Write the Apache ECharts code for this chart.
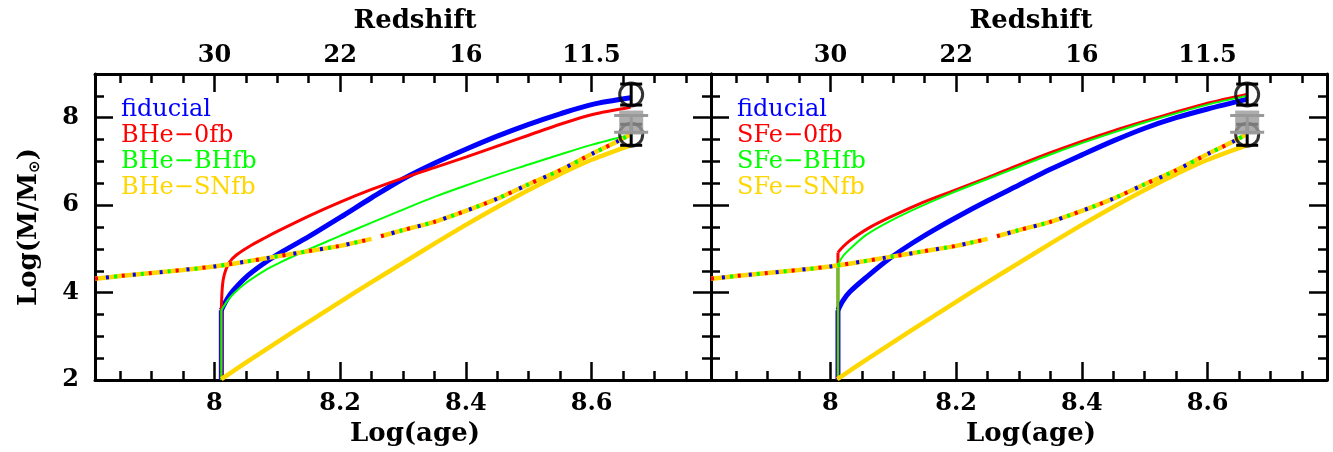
<!DOCTYPE html>
<html>
<head>
<meta charset="utf-8">
<script src="https://cdn.jsdelivr.net/npm/echarts@6/dist/echarts.min.js"></script>
<style>
  html, body { margin: 0; padding: 0; background: #fff; }
  #container { width: 1333px; height: 452px; }
</style>
</head>
<body>
<div id="container"></div>
<script>
// ticks
var ageTicks = [8, 8.2, 8.4, 8.6];
var ageMinor = [7.85, 7.9, 7.95, 8.05, 8.1, 8.15, 8.25, 8.3, 8.35, 8.45, 8.5, 8.55, 8.65, 8.7, 8.75];
var redshiftLabels = ['30', '22', '16', '11.5'];
var massTicks = [2, 4, 6, 8];
var massMinor = [2.5, 3, 3.5, 4.5, 5, 5.5, 6.5, 7, 7.5, 8.5];

// left panel: BHe models  [log(age), log(M)]
var fiducialL = [[8.011,2.0],[8.011,3.6],[8.02,3.85],[8.03,4.05],[8.05,4.35],[8.075,4.63],[8.1,4.87],[8.15,5.28],[8.2,5.72],[8.25,6.17],[8.3,6.6],[8.35,6.96],[8.4,7.28],[8.45,7.58],[8.5,7.85],[8.55,8.09],[8.6,8.3],[8.662,8.455]];
var bhe0fb = [[8.011,2.0],[8.011,3.6],[8.012,4.0],[8.014,4.3],[8.018,4.52],[8.024,4.7],[8.035,4.86],[8.056,5.06],[8.08,5.25],[8.1,5.4],[8.15,5.75],[8.2,6.07],[8.25,6.36],[8.3,6.62],[8.35,6.86],[8.4,7.1],[8.45,7.35],[8.5,7.6],[8.55,7.85],[8.6,8.07],[8.662,8.24]];
var bheBHfb = [[8.011,2.0],[8.011,3.6],[8.02,3.8],[8.03,3.97],[8.05,4.22],[8.083,4.53],[8.1,4.66],[8.136,4.9],[8.2,5.3],[8.25,5.6],[8.3,5.9],[8.35,6.19],[8.4,6.45],[8.45,6.7],[8.5,6.93],[8.55,7.16],[8.6,7.38],[8.662,7.61]];
// right panel: SFe models
var fiducialR = [[8.012,2.0],[8.012,3.6],[8.02,3.82],[8.031,4.02],[8.057,4.35],[8.094,4.78],[8.13,5.13],[8.163,5.42],[8.2,5.72],[8.25,6.1],[8.3,6.46],[8.35,6.82],[8.4,7.15],[8.45,7.47],[8.5,7.76],[8.55,8.0],[8.6,8.2],[8.662,8.42]];
var sfe0fb = [[8.012,2.0],[8.012,4.92],[8.02,5.05],[8.031,5.19],[8.06,5.47],[8.094,5.72],[8.14,6.02],[8.19,6.3],[8.25,6.63],[8.3,6.92],[8.35,7.2],[8.4,7.46],[8.45,7.7],[8.5,7.92],[8.55,8.13],[8.6,8.33],[8.662,8.53]];
var sfeBHfb = [[8.012,2.0],[8.012,4.62],[8.016,4.75],[8.022,4.87],[8.031,5.0],[8.057,5.32],[8.094,5.63],[8.14,5.95],[8.19,6.26],[8.25,6.6],[8.3,6.88],[8.35,7.16],[8.4,7.42],[8.45,7.66],[8.5,7.89],[8.55,8.1],[8.6,8.3],[8.662,8.5]];
// shared by both panels
var snfb = [[8.011,2.02],[8.05,2.4],[8.1,2.87],[8.15,3.33],[8.2,3.79],[8.25,4.24],[8.3,4.68],[8.35,5.12],[8.4,5.55],[8.45,5.96],[8.5,6.35],[8.55,6.71],[8.6,7.04],[8.662,7.37]];
var halo = [[7.81,4.32],[7.85,4.38],[7.9,4.45],[7.95,4.52],[8.0,4.6],[8.05,4.71],[8.1,4.83],[8.15,4.95],[8.2,5.07],[8.25,5.23],[8.257,null],[8.265,5.29],[8.3,5.43],[8.35,5.62],[8.4,5.87],[8.45,6.15],[8.5,6.48],[8.55,6.8],[8.6,7.17],[8.64,7.45],[8.662,7.62]];
// observed points: [age, value, low, high]
var obsCircles = [[8.663,8.53,8.29,8.77],[8.663,7.61,7.37,7.85]];
var obsSquare = [[8.663,7.89,7.67,8.05]];

var leftNames = ['fiducial', 'BHe\u22120fb', 'BHe\u2212BHfb', 'BHe\u2212SNfb'];
var rightNames = ['fiducial', 'SFe\u22120fb', 'SFe\u2212BHfb', 'SFe\u2212SNfb'];
var colors = ['#0000ff', '#ff0000', '#00ff00', '#ffd700'];

var FONT = 'DejaVu Serif';
var myChart = echarts.init(document.getElementById('container'));

function tickStyle() { return { color: '#000', width: 2.5 }; }

function xAxesFor(g) {
  var lbl = { fontFamily: FONT, fontWeight: 'bold', fontSize: 24, color: '#000' };
  var nameStyle = { fontFamily: FONT, fontWeight: 'bold', fontSize: 26, color: '#000', padding: [0, 0, 0, 24] };
  var base = { gridIndex: g, type: 'value', min: 7.81, max: 8.79, splitLine: { show: false } };
  return [
    Object.assign({}, base, { position: 'bottom',
      axisLine: { onZero: false, lineStyle: { color: '#000', width: 3 } },
      axisTick: { inside: true, length: 18, customValues: ageTicks, lineStyle: tickStyle() },
      axisLabel: Object.assign({ customValues: ageTicks, margin: 12 }, lbl),
      name: 'Log(age)', nameLocation: 'middle', nameGap: 38, nameTextStyle: nameStyle }),
    Object.assign({}, base, { position: 'bottom',
      axisLine: { show: false, onZero: false },
      axisTick: { inside: true, length: 9, customValues: ageMinor, lineStyle: tickStyle() },
      axisLabel: { show: false } }),
    Object.assign({}, base, { position: 'top',
      axisLine: { onZero: false, lineStyle: { color: '#000', width: 3 } },
      axisTick: { inside: true, length: 18, customValues: ageTicks, lineStyle: tickStyle() },
      axisLabel: Object.assign({ customValues: ageTicks, margin: 6, formatter: function (v) {
        for (var i = 0; i < ageTicks.length; i++) { if (Math.abs(ageTicks[i] - v) < 1e-6) return redshiftLabels[i]; }
        return '';
      } }, lbl),
      name: 'Redshift', nameLocation: 'middle', nameGap: 40, nameTextStyle: nameStyle }),
    Object.assign({}, base, { position: 'top',
      axisLine: { show: false, onZero: false },
      axisTick: { inside: true, length: 9, customValues: ageMinor, lineStyle: tickStyle() },
      axisLabel: { show: false } })
  ];
}

function yAxesFor(g, withLabels) {
  var base = { gridIndex: g, type: 'value', min: 2, max: 9, splitLine: { show: false } };
  var major = Object.assign({}, base, { position: 'left',
    axisLine: { onZero: false, lineStyle: { color: '#000', width: 3 } },
    axisTick: { inside: true, length: 18, customValues: massTicks, lineStyle: tickStyle() },
    axisLabel: { show: withLabels, customValues: massTicks, margin: 16, fontFamily: FONT, fontWeight: 'bold', fontSize: 24, color: '#000' } });
  if (withLabels) {
    major.name = '{a|Log(M/M}{b|\u2299}{a|)}';
    major.nameLocation = 'middle';
    major.nameGap = 52;
    major.nameTextStyle = { rich: {
      a: { fontFamily: FONT, fontWeight: 'bold', fontSize: 26, color: '#000' },
      b: { fontFamily: 'DejaVu Sans', fontWeight: 'bold', fontSize: 15, color: '#000', padding: [12, 0, 0, 0] }
    } };
  }
  return [
    major,
    Object.assign({}, base, { position: 'left', axisLine: { show: false, onZero: false },
      axisTick: { inside: true, length: 9, customValues: massMinor, lineStyle: tickStyle() }, axisLabel: { show: false } }),
    Object.assign({}, base, { position: 'right', axisLine: { onZero: false, lineStyle: { color: '#000', width: 3 } },
      axisTick: { inside: true, length: 18, customValues: massTicks, lineStyle: tickStyle() }, axisLabel: { show: false } }),
    Object.assign({}, base, { position: 'right', axisLine: { show: false, onZero: false },
      axisTick: { inside: true, length: 9, customValues: massMinor, lineStyle: tickStyle() }, axisLabel: { show: false } })
  ];
}

function lineSeries(name, data, color, width, g, z, smooth) {
  return { name: name, type: 'line', data: data, xAxisIndex: g * 4, yAxisIndex: g * 4,
    showSymbol: false, symbol: 'none', z: z, smooth: smooth,
    lineStyle: { color: color, width: width }, itemStyle: { color: color } };
}

// a model track: straight vertical jump at formation, then a smooth curve
function track(name, data, color, width, g, z) {
  if (data[0][0] !== data[1][0]) return [lineSeries(name, data, color, width, g, z, 0.3)];
  return [
    lineSeries(name, data.slice(0, 2), color, width, g, z, false),
    lineSeries(name, data.slice(1), color, width, g, z, 0.3)
  ];
}

function haloSeries(g) {
  var out = [lineSeries('', halo, '#ffd700', 4.5, g, 5, 0.3)];
  var dashCols = ['#ff0000', '#00ff00', '#0000ff'];
  for (var i = 0; i < dashCols.length; i++) {
    var s = lineSeries('', halo, dashCols[i], 4, g, 6, 0.3);
    s.lineStyle.type = [3, 24];
    s.lineStyle.dashOffset = i * 8;
    out.push(s);
  }
  return out;
}

function errorBars(data, color, capW, g, z) {
  return { type: 'custom', xAxisIndex: g * 4, yAxisIndex: g * 4, z: z, data: data,
    renderItem: function (params, api) {
      var top = api.coord([api.value(0), api.value(3)]);
      var bot = api.coord([api.value(0), api.value(2)]);
      var st = { stroke: color, lineWidth: 3 };
      var h = capW / 2;
      return { type: 'group', children: [
        { type: 'line', shape: { x1: top[0], y1: top[1], x2: bot[0], y2: bot[1] }, style: st },
        { type: 'line', shape: { x1: top[0] - h, y1: top[1], x2: top[0] + h, y2: top[1] }, style: st },
        { type: 'line', shape: { x1: bot[0] - h, y1: bot[1], x2: bot[0] + h, y2: bot[1] }, style: st }
      ] };
    } };
}

function obsSeries(g) {
  return [
    errorBars(obsCircles, '#000', 22, g, 7),
    { type: 'scatter', xAxisIndex: g * 4, yAxisIndex: g * 4, z: 7, data: obsCircles, symbol: 'circle', symbolSize: 23,
      itemStyle: { color: 'rgba(0,0,0,0)', borderColor: '#000', borderWidth: 3 } },
    errorBars(obsSquare, '#999999', 34, g, 8),
    { type: 'scatter', xAxisIndex: g * 4, yAxisIndex: g * 4, z: 8, data: obsSquare, symbol: 'rect', symbolSize: 24,
      itemStyle: { color: '#999999' } }
  ];
}

function legendFor(names, left) {
  return { left: left, top: 97, orient: 'vertical', padding: 0, icon: 'none', itemWidth: 0, itemHeight: 0, itemGap: 0,
    selectedMode: false,
    textStyle: { fontFamily: FONT, fontSize: 24, lineHeight: 26 },
    data: names.map(function (n, i) { return { name: n, textStyle: { color: colors[i] } }; }) };
}

var series = [].concat(
  track(leftNames[0], fiducialL, colors[0], 5, 0, 2),
  track(leftNames[1], bhe0fb, colors[1], 3, 0, 3),
  track(leftNames[2], bheBHfb, colors[2], 2, 0, 3),
  track(leftNames[3], snfb, colors[3], 4.5, 0, 4),
  haloSeries(0), obsSeries(0),
  track(rightNames[0], fiducialR, colors[0], 5, 1, 2),
  track(rightNames[1], sfe0fb, colors[1], 3, 1, 3),
  track(rightNames[2], sfeBHfb, colors[2], 2, 1, 3),
  track(rightNames[3], snfb, colors[3], 4.5, 1, 4),
  haloSeries(1), obsSeries(1)
);

option = {
  animation: false,
  backgroundColor: '#fff',
  grid: [
    { left: 95, top: 74, width: 616, height: 308 },
    { left: 711, top: 74, width: 616, height: 308 }
  ],
  legend: [legendFor(leftNames, 116), legendFor(rightNames, 732)],
  xAxis: xAxesFor(0).concat(xAxesFor(1)),
  yAxis: yAxesFor(0, true).concat(yAxesFor(1, false)),
  series: series
};
myChart.setOption(option);
</script>
</body>
</html>
